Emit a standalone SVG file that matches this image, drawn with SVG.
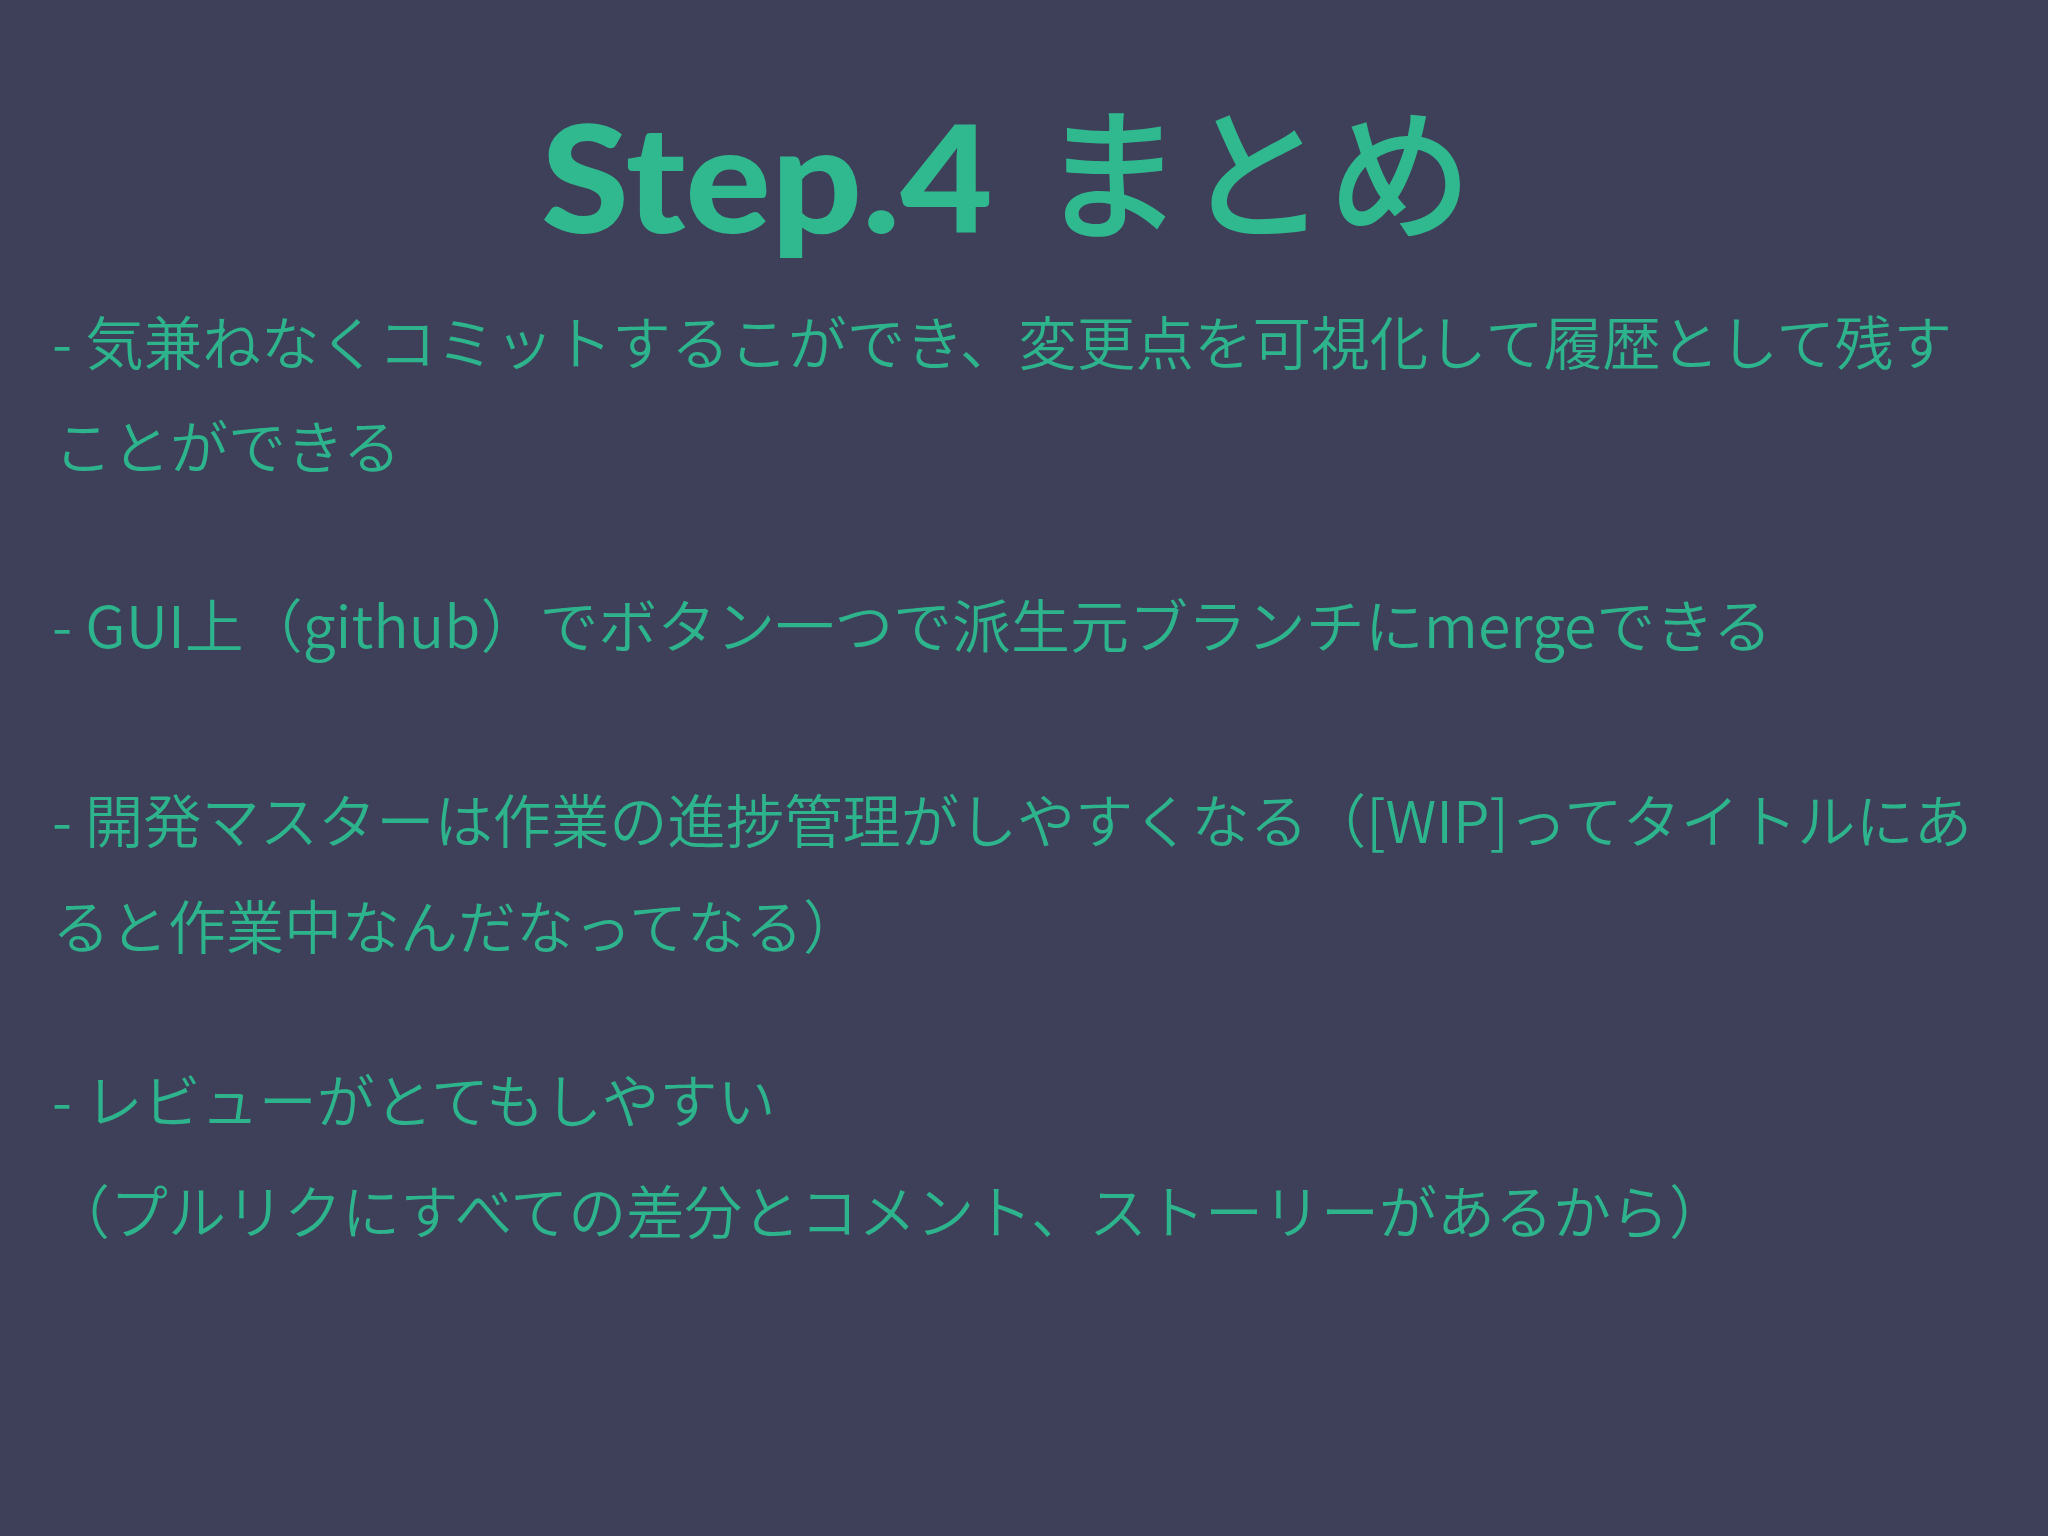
<svg xmlns="http://www.w3.org/2000/svg" width="2048" height="1536" viewBox="0 0 2048 1536">
<style>
.title{font-family:"Lato","Noto Sans CJK JP",sans-serif;font-weight:900;fill:#30b98f}
.titlejp{font-family:"Noto Sans CJK JP",sans-serif;font-weight:500;fill:#30b98f}
.body{font-family:"Noto Sans CJK JP","Liberation Sans",sans-serif;font-size:58px;font-weight:350;fill:#2db48c}
</style>
<rect x="0" y="0" width="2048" height="1536" fill="#3e3f58"/>
<g id="title">
<text class="title" x="541" y="233" font-size="148" textLength="452" lengthAdjust="spacingAndGlyphs">Step.4</text>
<text class="titlejp" x="1040" y="229" font-size="144">まとめ</text>
</g>
<g id="bullet1">
<text class="body" x="52" y="365" textLength="1900" lengthAdjust="spacingAndGlyphs">- 気兼ねなくコミットするこができ、変更点を可視化して履歴として残す</text>
<text class="body" x="54" y="469">ことができる</text>
</g>
<g id="bullet2">
<text class="body" x="52" y="648" textLength="1720" lengthAdjust="spacingAndGlyphs">- GUI上（github）でボタン一つで派生元ブランチにmergeできる</text>
</g>
<g id="bullet3">
<text class="body" x="52" y="843" textLength="1920" lengthAdjust="spacingAndGlyphs">- 開発マスターは作業の進捗管理がしやすくなる（[WIP]ってタイトルにあ</text>
<text class="body" x="52" y="949">ると作業中なんだなってなる）</text>
</g>
<g id="bullet4">
<text class="body" x="52" y="1123">- レビューがとてもしやすい</text>
<text class="body" x="52" y="1234">（プルリクにすべての差分とコメント、ストーリーがあるから）</text>
</g>
</svg>
